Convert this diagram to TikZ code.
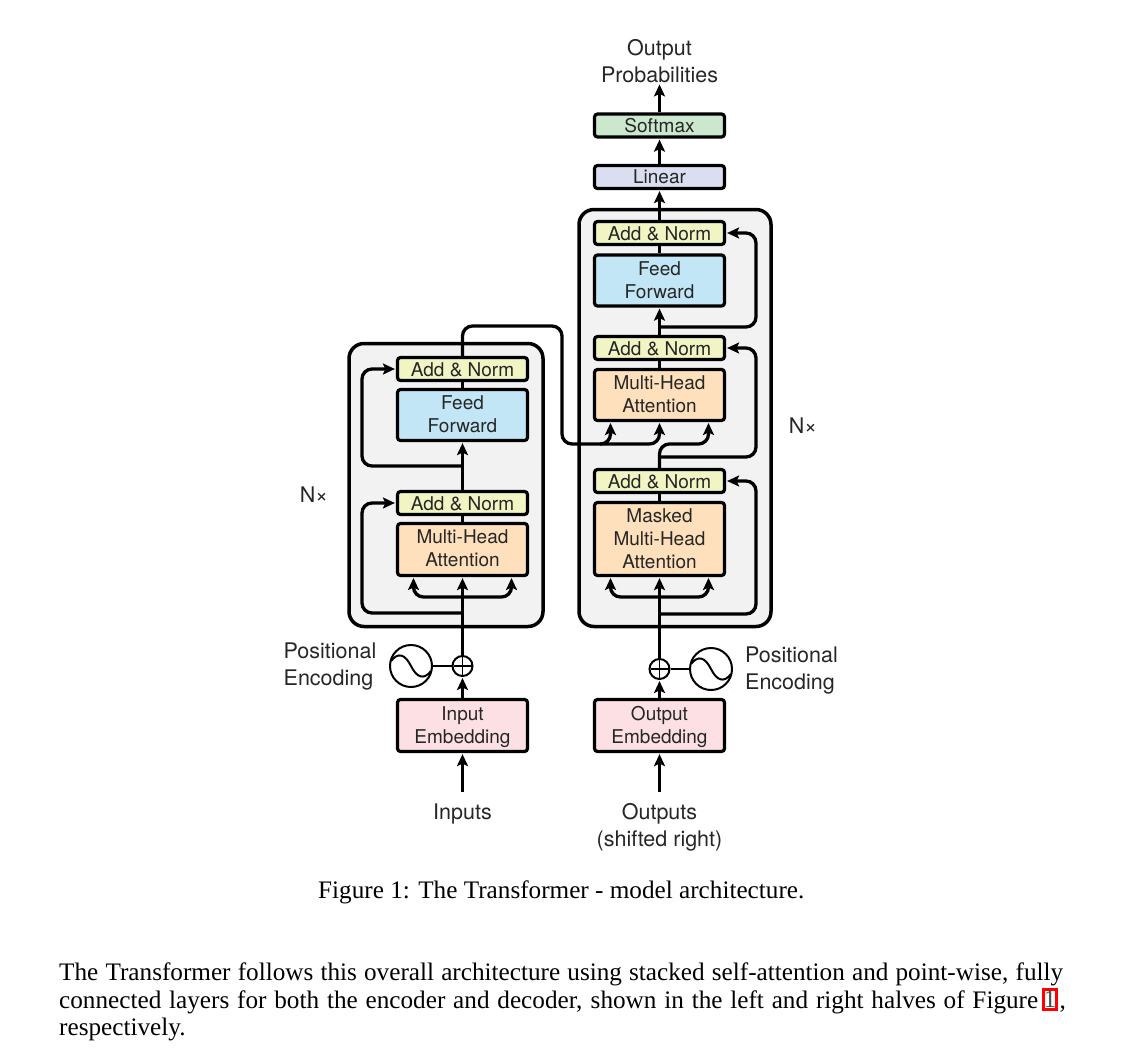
\documentclass[tikz,border=0pt]{standalone}
\usepackage{fontspec}
\setmainfont{TeX Gyre Heros}
\newfontfamily\paperfont{Liberation Serif}
\usetikzlibrary{arrows.meta}
\definecolor{addcol}{HTML}{F1F4C3}
\definecolor{feedcol}{HTML}{C3E6F6}
\definecolor{attcol}{HTML}{FEE0BC}
\definecolor{embcol}{HTML}{FCE0E3}
\definecolor{softcol}{HTML}{CBE8CE}
\definecolor{lincol}{HTML}{DADEF0}
\definecolor{stackcol}{HTML}{F2F2F2}
\definecolor{inkcol}{HTML}{262626}

\begin{document}
\begin{tikzpicture}[x=1pt,y=-1pt,shorten >=1pt]
    \tikzstyle{stack}=[draw=black,fill=stackcol,line width=3.5pt,rounded corners=15pt,inner sep=0pt]
    \tikzstyle{block}=[draw=black,line width=3.2pt,rounded corners=3pt,minimum width=130pt,inner sep=0pt,align=center,text=inkcol,font=\fontsize{19}{23}\selectfont]
    \tikzstyle{addnorm}=[block,fill=addcol,minimum height=23pt,text height=16pt]
    \tikzstyle{caption}=[text=inkcol,align=center,inner sep=0pt,font=\fontsize{21.5}{27}\selectfont]
    \tikzstyle{paper}=[anchor=base west,inner sep=0pt,font=\paperfont\fontsize{25.2}{27}\selectfont]
    \tikzstyle{plain}=[line width=3.3pt,shorten >=0pt]
    \tikzstyle{link}=[line width=3.3pt,-{Stealth[length=12pt,width=11pt,inset=2.5pt]}]
    \tikzstyle{turn}=[rounded corners=10pt]
    \tikzstyle{ring}=[circle,draw=black,fill=white,line width=2pt,inner sep=0pt]

    \useasboundingbox (0,0) rectangle (1125,1050);

    % the two grey stacks
    \node[stack,minimum width=194pt,minimum height=283pt] (enc-stack) at (446,485) {};
    \node[stack,minimum width=192pt,minimum height=417pt] (dec-stack) at (675,418) {};

    % encoder and decoder blocks
    \foreach \name/\y in {enc-add2/369, enc-add1/503}
        \node[addnorm] (\name) at (462.5,\y) {Add \& Norm};
    \foreach \name/\y in {dec-add3/233, dec-add2/348, dec-add1/481}
        \node[addnorm] (\name) at (659.5,\y) {Add \& Norm};

    \node[block,fill=feedcol,minimum height=51pt,text depth=2pt] (enc-feed) at (462.5,415) {Feed\\Forward};
    \node[block,fill=feedcol,minimum height=51pt] (dec-feed) at (659.5,280.5) {Feed\\Forward};
    \node[block,fill=attcol,minimum height=52pt,text depth=2pt] (enc-att) at (462.5,549.5) {Multi-Head\\Attention};
    \node[block,fill=attcol,minimum height=51pt,text depth=2pt] (dec-att) at (659.5,395) {Multi-Head\\Attention};
    \node[block,fill=attcol,minimum height=73pt] (dec-mask) at (659.5,539) {Masked\\Multi-Head\\Attention};
    \node[block,fill=embcol,minimum height=52pt,text depth=1pt] (enc-emb) at (462.5,725.5) {Input\\Embedding};
    \node[block,fill=embcol,minimum height=52pt,text depth=1pt] (dec-emb) at (659.5,725.5) {Output\\Embedding};
    \node[block,fill=lincol,minimum height=23pt] (linear) at (659.5,177) {Linear};
    \node[block,fill=softcol,minimum height=23pt] (softmax) at (659.5,125.5) {Softmax};

    % positional encoding
    \node[ring,minimum size=20pt] (enc-plus) at (462.5,666) {};
    \node[ring,minimum size=20pt] (dec-plus) at (659.5,669) {};
    \node[ring,minimum size=42pt] (enc-sine) at (411,666) {};
    \node[ring,minimum size=42pt] (dec-sine) at (711,669) {};
    \foreach \s in {enc-sine, dec-sine}
        \draw[line width=2pt,shorten >=0pt,shift={(\s)}] (-20,-5) .. controls (-13,-14) and (-6,-12) .. (0,0) .. controls (6,12) and (13,14) .. (20,5);
    \foreach \s in {enc-plus, dec-plus} {
        \draw[line width=1.2pt,shorten >=2pt,shorten <=2pt] (\s.north) -- (\s.south);
        \draw[line width=1.2pt,shorten >=2pt,shorten <=2pt] (\s.west) -- (\s.east);
    }

    % labels
    \node[caption] (out-label) at (659.5,61.5) {Output\\Probabilities};
    \node[caption] (enc-n) at (314,495) {N×};
    \node[caption] (dec-n) at (803,426) {N×};
    \node[caption,align=left] (enc-pos) at (330,666) {Positional\\Encoding};
    \node[caption,align=left] (dec-pos) at (791.5,670) {Positional\\Encoding};
    \node[caption] (in-label) at (462.5,814) {Inputs};
    \node[caption] (shift-label) at (659.5,827.5) {Outputs\\(shifted right)};

    % free ends and branch points
    \coordinate (enc-start) at (462.5,792);
    \coordinate (dec-start) at (659.5,792);
    \coordinate (enc-fork) at (462.5,597);
    \coordinate (enc-res1) at (462.5,613);
    \coordinate (enc-res2) at (462.5,466);
    \coordinate (dec-fork) at (659.5,597);
    \coordinate (dec-res1) at (659.5,614);
    \coordinate (dec-res2) at (659.5,457);
    \coordinate (dec-res3) at (659.5,327);
    \coordinate (cross-fork) at (600,444);
    \coordinate (enc-tl) at (413.5,577);
    \coordinate (enc-tr) at (511.5,577);
    \coordinate (dec-tl) at (610.5,577);
    \coordinate (dec-tr) at (708.5,577);
    \coordinate (att-tl) at (610.5,422);
    \coordinate (att-tm) at (659.5,422);
    \coordinate (att-tr) at (708.5,422);

    % straight flow through the encoder
    \draw[link] (enc-start) -- (enc-emb.south);
    \draw[link] (enc-emb.north) -- (enc-plus.south);
    \draw[link] (enc-plus.north) -- (enc-att.south);
    \draw[plain] (enc-att.north) -- (enc-add1.south);
    \draw[link] (enc-add1.north) -- (enc-feed.south);
    \draw[plain] (enc-feed.north) -- (enc-add2.south);
    \draw[plain,line width=2.6pt] (enc-sine) -- (enc-plus);

    % straight flow through the decoder
    \draw[link] (dec-start) -- (dec-emb.south);
    \draw[link] (dec-emb.north) -- (dec-plus.south);
    \draw[link] (dec-plus.north) -- (dec-mask.south);
    \draw[plain] (dec-mask.north) -- (dec-add1.south);
    \draw[plain] (dec-att.north) -- (dec-add2.south);
    \draw[link] (dec-add2.north) -- (dec-feed.south);
    \draw[plain] (dec-feed.north) -- (dec-add3.south);
    \draw[link] (dec-add3.north) -- (linear.south);
    \draw[link] (linear.north) -- (softmax.south);
    \draw[link] (softmax.north) -- (out-label.south);
    \draw[plain,line width=2.6pt] (dec-sine) -- (dec-plus);

    % attention forks
    \draw[link,turn] (enc-fork) -- (413.5,597) -- (enc-tl);
    \draw[link,turn] (enc-fork) -- (511.5,597) -- (enc-tr);
    \draw[link,turn] (dec-fork) -- (610.5,597) -- (dec-tl);
    \draw[link,turn] (dec-fork) -- (708.5,597) -- (dec-tr);

    % residual loops
    \draw[link,turn] (enc-res1) -- (362,613) -- (362,503) -- (enc-add1.west);
    \draw[link,turn] (enc-res2) -- (362,466) -- (362,369) -- (enc-add2.west);
    \draw[link,turn] (dec-res1) -- (756,614) -- (756,481) -- (dec-add1.east);
    \draw[link,turn] (dec-res2) -- (756,457) -- (756,348) -- (dec-add2.east);
    \draw[link,turn] (dec-res3) -- (756,327) -- (756,233) -- (dec-add3.east);

    % encoder output into the decoder attention
    \draw[link,turn] (enc-add2.north) -- (462.5,326) -- (562,326) -- (562,444) -- (610.5,444) -- (att-tl);
    \draw[link,turn] (cross-fork) -- (659.5,444) -- (att-tm);
    \draw[link,turn] (dec-add1.north) -- (659.5,444) -- (708.5,444) -- (att-tr);

    % caption and running text
    \node[paper] (fig-caption) at (318,898) {Figure 1: The Transformer - model architecture.};
    \node[paper] (text-1) at (59,980) {\hbox to 1004pt{The Transformer follows this overall architecture using stacked self-attention and point-wise, fully}};
    \node[paper] (text-2) at (59,1008) {\hbox to 979pt{connected layers for both the encoder and decoder, shown in the left and right halves of Figure}};
    \node[paper] (text-3) at (59,1035) {respectively.};
    \node[draw=red,line width=3pt,minimum width=9.5pt,minimum height=20.5pt,inner sep=0pt,text=black!70,font=\paperfont\fontsize{25.2}{27}\selectfont] (fig-ref) at (1050,999.5) {1};
    \node[paper] (text-comma) at (1059.5,1008) {,};
\end{tikzpicture}
\end{document}
